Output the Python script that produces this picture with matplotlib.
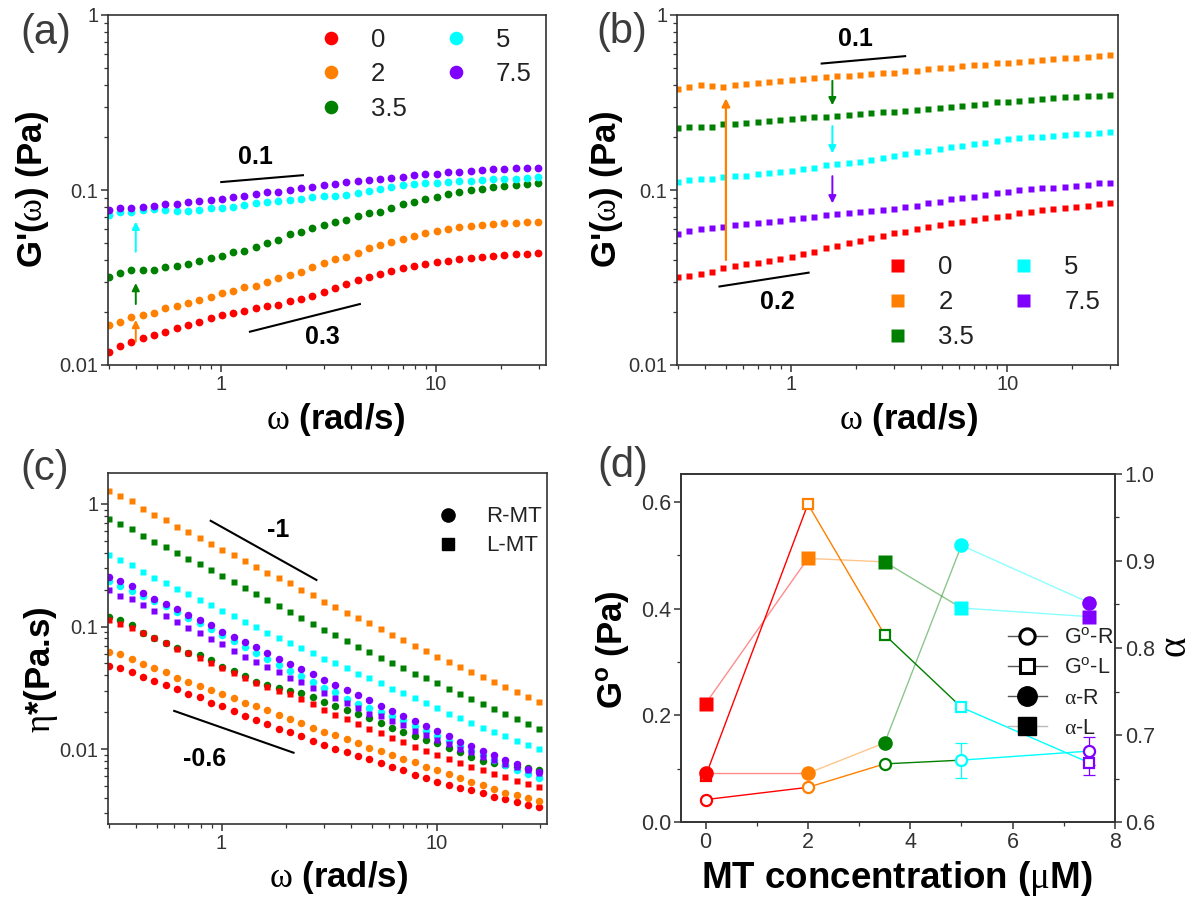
import numpy as np
import matplotlib
matplotlib.use('Agg')
import matplotlib.pyplot as plt
from matplotlib.lines import Line2D
from matplotlib.ticker import LogLocator, NullFormatter, MultipleLocator, FormatStrFormatter

plt.rcParams['font.family'] = ['Liberation Sans', 'DejaVu Sans']
plt.rcParams['mathtext.fontset'] = 'custom'
plt.rcParams['mathtext.rm'] = 'Liberation Serif'
plt.rcParams['mathtext.sf'] = 'Liberation Sans'
plt.rcParams['mathtext.bf'] = 'Liberation Sans:bold'
plt.rcParams['mathtext.it'] = 'Liberation Sans:italic'
plt.rcParams['axes.linewidth'] = 1.2
plt.rcParams['axes.edgecolor'] = '#333333'
plt.rcParams['xtick.color'] = '#333333'
plt.rcParams['ytick.color'] = '#333333'

# frequency sweep (rad/s), shared by panels a-c
omega = [0.300, 0.339, 0.382, 0.431, 0.487, 0.550, 0.620, 0.700, 0.791, 0.892,
         1.007, 1.137, 1.283, 1.449, 1.635, 1.846, 2.083, 2.352, 2.655, 2.997,
         3.383, 3.819, 4.311, 4.866, 5.493, 6.200, 6.999, 7.900, 8.918, 10.07,
         11.36, 12.83, 14.48, 16.34, 18.45, 20.82, 23.51, 26.53, 29.95]

conc_labels = ['0', '2', '3.5', '5', '7.5']
colors = ['#ff0000', '#ff8000', '#008000', '#00ffff', '#8000ff']

# (a) G' for R-MT
gR_0 = [0.0119, 0.0128, 0.0136, 0.0142, 0.0149, 0.0155, 0.0162, 0.0169, 0.0177, 0.0185,
        0.0193, 0.0198, 0.0203, 0.0211, 0.0216, 0.0221, 0.0231, 0.0239, 0.0249, 0.0263,
        0.0274, 0.0289, 0.0305, 0.0318, 0.0331, 0.0345, 0.0356, 0.0368, 0.0379, 0.0386,
        0.0395, 0.0402, 0.0410, 0.0415, 0.0421, 0.0425, 0.0430, 0.0432, 0.0434]
gR_2 = [0.0169, 0.0177, 0.0189, 0.0193, 0.0199, 0.0211, 0.0216, 0.0225, 0.0235, 0.0246,
        0.0257, 0.0265, 0.0278, 0.0284, 0.0300, 0.0313, 0.0327, 0.0342, 0.0365, 0.0381,
        0.0402, 0.0416, 0.0435, 0.0464, 0.0485, 0.0507, 0.0527, 0.0546, 0.0566, 0.0586,
        0.0600, 0.0612, 0.0622, 0.0631, 0.0639, 0.0646, 0.0652, 0.0657, 0.0660]
gR_35 = [0.0320, 0.0335, 0.0347, 0.0347, 0.0347, 0.0365, 0.0369, 0.0376, 0.0393, 0.0407,
         0.0422, 0.0440, 0.0450, 0.0470, 0.0496, 0.0518, 0.0558, 0.0578, 0.0604, 0.0631,
         0.0654, 0.0674, 0.0711, 0.0736, 0.0752, 0.0789, 0.0832, 0.0858, 0.0892, 0.0916,
         0.0945, 0.0970, 0.0995, 0.1015, 0.1035, 0.1050, 0.1065, 0.1080, 0.1100]
gR_5 = [0.0720, 0.0752, 0.0752, 0.0770, 0.0775, 0.0770, 0.0762, 0.0755, 0.0770, 0.0786,
        0.0786, 0.0803, 0.0820, 0.0839, 0.0855, 0.0870, 0.0880, 0.0890, 0.0910, 0.0920,
        0.0930, 0.0940, 0.0957, 0.0990, 0.1010, 0.1040, 0.1070, 0.1080, 0.1090, 0.1100,
        0.1110, 0.1125, 0.1130, 0.1140, 0.1150, 0.1160, 0.1163, 0.1165, 0.1180]
gR_75 = [0.0769, 0.0786, 0.0786, 0.0796, 0.0814, 0.0830, 0.0830, 0.0850, 0.0870, 0.0877,
         0.0889, 0.0908, 0.0928, 0.0945, 0.0970, 0.0980, 0.1000, 0.1020, 0.1040, 0.1070,
         0.1080, 0.1110, 0.1120, 0.1140, 0.1160, 0.1170, 0.1190, 0.1220, 0.1230, 0.1240,
         0.1260, 0.1270, 0.1290, 0.1300, 0.1310, 0.1320, 0.1330, 0.1330, 0.1340]

# (b) G' for L-MT
gL_0 = [0.0317, 0.0323, 0.0331, 0.0342, 0.0357, 0.0368, 0.0376, 0.0385, 0.0393, 0.0404,
        0.0416, 0.0429, 0.0444, 0.0464, 0.0480, 0.0496, 0.0513, 0.0530, 0.0546, 0.0566,
        0.0578, 0.0599, 0.0618, 0.0630, 0.0645, 0.0659, 0.0674, 0.0689, 0.0705, 0.0714,
        0.0736, 0.0752, 0.0769, 0.0779, 0.0792, 0.0803, 0.0814, 0.0832, 0.0847]
gL_2 = [0.380, 0.390, 0.398, 0.392, 0.388, 0.398, 0.403, 0.410, 0.414, 0.418,
        0.424, 0.429, 0.434, 0.440, 0.447, 0.449, 0.455, 0.460, 0.465, 0.469,
        0.476, 0.481, 0.489, 0.496, 0.501, 0.510, 0.516, 0.520, 0.529, 0.533,
        0.540, 0.547, 0.551, 0.560, 0.566, 0.571, 0.576, 0.583, 0.590]
gL_35 = [0.225, 0.228, 0.230, 0.230, 0.237, 0.239, 0.242, 0.245, 0.248, 0.251,
         0.255, 0.257, 0.262, 0.262, 0.266, 0.269, 0.272, 0.275, 0.278, 0.280,
         0.283, 0.286, 0.290, 0.294, 0.299, 0.302, 0.306, 0.310, 0.317, 0.320,
         0.324, 0.327, 0.330, 0.334, 0.338, 0.341, 0.344, 0.346, 0.349]
gL_5 = [0.1116, 0.1140, 0.1150, 0.1160, 0.1180, 0.1200, 0.1210, 0.1230, 0.1245, 0.1270,
        0.1290, 0.1310, 0.1340, 0.1390, 0.1400, 0.1430, 0.1450, 0.1480, 0.1520, 0.1560,
        0.1600, 0.1640, 0.1670, 0.1710, 0.1750, 0.1780, 0.1820, 0.1860, 0.1910, 0.1950,
        0.1970, 0.2000, 0.2020, 0.2030, 0.2060, 0.2080, 0.2100, 0.2130, 0.2140]
gL_75 = [0.0558, 0.0580, 0.0596, 0.0604, 0.0618, 0.0630, 0.0640, 0.0650, 0.0659, 0.0668,
         0.0680, 0.0692, 0.0705, 0.0716, 0.0727, 0.0738, 0.0747, 0.0756, 0.0768, 0.0779,
         0.0803, 0.0815, 0.0839, 0.0858, 0.0885, 0.0904, 0.0916, 0.0936, 0.0957, 0.0980,
         0.1000, 0.1010, 0.1020, 0.1030, 0.1040, 0.1050, 0.1070, 0.1090, 0.1100]

# (c) complex viscosity, R-MT (circles)
etaR_0 = [0.0478, 0.0455, 0.0427, 0.0391, 0.0361, 0.0333, 0.0308, 0.0284, 0.0264, 0.0240,
          0.0223, 0.0205, 0.0187, 0.0173, 0.0160, 0.0147, 0.0137, 0.0127, 0.0117, 0.0109,
          0.0101, 0.0095, 0.0088, 0.0083, 0.0077, 0.0071, 0.0067, 0.0061, 0.0058, 0.0054,
          0.0051, 0.0048, 0.0046, 0.0044, 0.0041, 0.0039, 0.0037, 0.0035, 0.0034]
etaR_2 = [0.0621, 0.0595, 0.0548, 0.0493, 0.0455, 0.0422, 0.0384, 0.0356, 0.0328, 0.0305,
          0.0281, 0.0259, 0.0240, 0.0223, 0.0209, 0.0189, 0.0176, 0.0163, 0.0150, 0.0139,
          0.0130, 0.0121, 0.0112, 0.0103, 0.0096, 0.0089, 0.0083, 0.0078, 0.0072, 0.0067,
          0.00625, 0.00577, 0.00542, 0.0051, 0.0047, 0.0044, 0.0042, 0.0040, 0.0038]
etaR_35 = [0.1206, 0.1126, 0.1031, 0.0894, 0.0814, 0.0732, 0.0666, 0.0614, 0.0584, 0.0535,
           0.0472, 0.0430, 0.0396, 0.0354, 0.0333, 0.0315, 0.0300, 0.0285, 0.0264, 0.0243,
           0.0226, 0.0209, 0.0193, 0.0178, 0.0163, 0.0150, 0.0138, 0.0128, 0.0119, 0.0112,
           0.0103, 0.0095, 0.0087, 0.0080, 0.0077, 0.0074, 0.0072, 0.0070, 0.0068]
etaR_5 = [0.235, 0.215, 0.195, 0.178, 0.162, 0.147, 0.132, 0.118, 0.106, 0.095,
          0.0850, 0.0765, 0.0685, 0.0610, 0.0548, 0.0490, 0.0435, 0.0396, 0.0354, 0.0318,
          0.0290, 0.0256, 0.0233, 0.0215, 0.0202, 0.0187, 0.0173, 0.0155, 0.0141, 0.0128,
          0.0117, 0.0106, 0.0097, 0.0090, 0.0081, 0.0074, 0.0068, 0.0063, 0.0058]
etaR_75 = [0.256, 0.236, 0.215, 0.187, 0.169, 0.154, 0.138, 0.124, 0.113, 0.1025,
           0.091, 0.0829, 0.0750, 0.0675, 0.0614, 0.0548, 0.0493, 0.0449, 0.0409, 0.0367,
           0.0333, 0.0303, 0.0275, 0.0251, 0.0226, 0.0205, 0.0187, 0.0170, 0.0153, 0.0141,
           0.0127, 0.0115, 0.0106, 0.0097, 0.0089, 0.0081, 0.0075, 0.0069, 0.0065]

# (c) complex viscosity, L-MT (squares)
etaL_0 = [0.113, 0.1045, 0.0969, 0.0883, 0.0814, 0.0732, 0.0662, 0.0606, 0.0559, 0.0502,
          0.0455, 0.0417, 0.0384, 0.0345, 0.0324, 0.0299, 0.0281, 0.0256, 0.0233, 0.0209,
          0.0189, 0.0176, 0.0160, 0.0147, 0.0135, 0.0124, 0.0115, 0.0105, 0.0097, 0.0089,
          0.0083, 0.0077, 0.0072, 0.0067, 0.0063, 0.0059, 0.0055, 0.0052, 0.0049]
etaL_2 = [1.276, 1.160, 1.058, 0.916, 0.813, 0.741, 0.653, 0.591, 0.532, 0.469,
          0.422, 0.382, 0.343, 0.308, 0.276, 0.251, 0.226, 0.199, 0.180, 0.160,
          0.145, 0.130, 0.117, 0.106, 0.0951, 0.0855, 0.0774, 0.0696, 0.0633, 0.0569,
          0.0515, 0.0472, 0.0427, 0.0391, 0.0355, 0.0322, 0.0292, 0.0265, 0.0241]
etaL_35 = [0.758, 0.692, 0.629, 0.548, 0.493, 0.449, 0.401, 0.358, 0.322, 0.290,
           0.259, 0.231, 0.208, 0.186, 0.165, 0.147, 0.132, 0.117, 0.1044, 0.0939,
           0.0850, 0.0764, 0.0687, 0.0621, 0.0559, 0.0509, 0.0457, 0.0414, 0.0377, 0.0345,
           0.0308, 0.0281, 0.0256, 0.0233, 0.0212, 0.0193, 0.0175, 0.0160, 0.0145]
etaL_5 = [0.382, 0.349, 0.316, 0.279, 0.249, 0.226, 0.204, 0.184, 0.165, 0.149,
          0.134, 0.122, 0.109, 0.100, 0.0894, 0.0813, 0.0741, 0.0666, 0.0606, 0.0548,
          0.0502, 0.0455, 0.0414, 0.0377, 0.0345, 0.0312, 0.0286, 0.0259, 0.0237, 0.0215,
          0.0195, 0.0178, 0.0163, 0.0150, 0.0138, 0.0127, 0.0117, 0.0108, 0.0100]
etaL_75 = [0.199, 0.178, 0.167, 0.149, 0.134, 0.122, 0.109, 0.098, 0.0894, 0.0798,
           0.0718, 0.0633, 0.0569, 0.0515, 0.0472, 0.0422, 0.0384, 0.0350, 0.0318, 0.0286,
           0.0259, 0.0236, 0.0215, 0.0195, 0.0185, 0.0170, 0.0157, 0.0141, 0.0130, 0.0119,
           0.0110, 0.0101, 0.0094, 0.0087, 0.0081, 0.0075, 0.0071, 0.0067, 0.0064]

# (d) fit parameters vs MT concentration
conc = [0, 2, 3.5, 5, 7.5]
G0_R = [0.042, 0.065, 0.109, 0.116, 0.133]
G0_R_err = [0, 0, 0, 0.033, 0.026]
G0_L = [0.086, 0.596, 0.351, 0.215, 0.111]
G0_L_err = [0, 0, 0, 0, 0.022]
alpha_R = [0.656, 0.656, 0.691, 0.918, 0.852]
alpha_L = [0.736, 0.903, 0.899, 0.846, 0.836]

W, H = 1192, 899
fig = plt.figure(figsize=(W / 100, H / 100), dpi=100)


def px_axes(l, t, r, b):
    return fig.add_axes([l / W, 1 - b / H, (r - l) / W, (b - t) / H])


ax_a = px_axes(108, 15, 546, 365)
ax_b = px_axes(677, 15, 1118, 365)
ax_c = px_axes(108, 473, 547, 824)
ax_d = px_axes(681, 474, 1115, 822)


def style_log(ax, ylim):
    ax.set_xscale('log')
    ax.set_yscale('log')
    ax.set_xlim(0.297, 32.5)
    ax.set_ylim(*ylim)
    ax.set_xticks([1, 10])
    ax.set_xticklabels(['1', '10'])
    ax.set_yticks([0.01, 0.1, 1])
    ax.set_yticklabels(['0.01', '0.1', '1'])
    ax.xaxis.set_minor_locator(LogLocator(base=10, subs=np.arange(2, 10), numticks=20))
    ax.yaxis.set_minor_locator(LogLocator(base=10, subs=np.arange(2, 10), numticks=20))
    ax.xaxis.set_minor_formatter(NullFormatter())
    ax.yaxis.set_minor_formatter(NullFormatter())
    ax.tick_params(which='major', direction='out', length=5, width=1.1, labelsize=14.5, pad=2)
    ax.tick_params(which='minor', direction='out', length=2.8, width=0.9)
    ax.tick_params(which='both', top=False, right=False)


lab_kw = dict(fontsize=25, fontweight='bold')
omega_label = r'$\mathrm{\omega}$ (rad/s)'

# ---- (a) ----
style_log(ax_a, (0.01, 1))
for vals, c, lab in zip([gR_0, gR_2, gR_35, gR_5, gR_75], colors, conc_labels):
    ax_a.plot(omega, vals, 'o', color=c, ms=5.6, mec='none', label=lab)
ax_a.set_xlim(0.297, 32.5)
ax_a.set_xlabel(omega_label, va='center', **lab_kw)
ax_a.xaxis.set_label_coords(0.52, -0.157)
ax_a.set_ylabel(r"G'($\mathrm{\omega}$) (Pa)", va='center', **lab_kw)
ax_a.yaxis.set_label_coords(-0.172, 0.5)
ax_a.legend(loc='upper left', bbox_to_anchor=(0.48, 0.963), ncol=2, frameon=False,
            fontsize=18.5, handlelength=1.0, handletextpad=1.06, columnspacing=1.4,
            labelspacing=0.4, borderpad=0, borderaxespad=0, markerscale=1.75,
            labelcolor='#222222')
ax_a.plot([1.0, 2.4], [0.111, 0.1215], color='black', lw=1.5)
ax_a.text(1.45, 0.154, '0.1', fontsize=18, fontweight='bold', ha='center', va='center')
ax_a.plot([1.36, 4.42], [0.0155, 0.0223], color='black', lw=1.5)
ax_a.text(2.96, 0.0145, '0.3', fontsize=18, fontweight='bold', ha='center', va='center')
for (y0, y1), c in zip([(0.0136, 0.0181), (0.0223, 0.0294), (0.0444, 0.0659)],
                       [colors[1], colors[2], colors[3]]):
    ax_a.annotate('', xy=(0.40, y1), xytext=(0.40, y0),
                  arrowprops=dict(arrowstyle='-|>', color=c, lw=1.4,
                                  mutation_scale=11, shrinkA=0, shrinkB=0))

# ---- (b) ----
style_log(ax_b, (0.01, 1))
for vals, c, lab in zip([gL_0, gL_2, gL_35, gL_5, gL_75], colors, conc_labels):
    ax_b.plot(omega, vals, 's', color=c, ms=4.8, mec='none', label=lab)
ax_b.set_xlim(0.297, 32.5)
ax_b.set_xlabel(omega_label, va='center', **lab_kw)
ax_b.xaxis.set_label_coords(0.526, -0.157)
ax_b.set_ylabel(r"G'($\mathrm{\omega}$) (Pa)", va='center', **lab_kw)
ax_b.yaxis.set_label_coords(-0.159, 0.5)
ax_b.legend(loc='upper left', bbox_to_anchor=(0.4705, 0.313), ncol=2, frameon=False,
            fontsize=18.5, handlelength=1.0, handletextpad=1.1, columnspacing=1.4,
            labelspacing=0.42, borderpad=0, borderaxespad=0, markerscale=1.95,
            labelcolor='#222222')
ax_b.plot([1.386, 3.37], [0.528, 0.582], color='black', lw=1.5)
ax_b.text(1.98, 0.734, '0.1', fontsize=18, fontweight='bold', ha='center', va='center')
ax_b.plot([0.467, 1.206], [0.0281, 0.0337], color='black', lw=1.5)
ax_b.text(0.864, 0.023, '0.2', fontsize=18, fontweight='bold', ha='center', va='center')
ax_b.annotate('', xy=(0.50, 0.334), xytext=(0.50, 0.0398),
              arrowprops=dict(arrowstyle='-|>', color=colors[1], lw=1.6,
                              mutation_scale=12, shrinkA=0, shrinkB=0))
for (y0, y1), c in zip([(0.421, 0.305), (0.232, 0.162), (0.120, 0.0839)],
                       [colors[2], colors[3], colors[4]]):
    ax_b.annotate('', xy=(1.553, y1), xytext=(1.553, y0),
                  arrowprops=dict(arrowstyle='-|>', color=c, lw=1.4,
                                  mutation_scale=11, shrinkA=0, shrinkB=0))

# ---- (c) ----
style_log(ax_c, (0.00245, 1.79))
for vals, c in zip([etaR_0, etaR_2, etaR_35, etaR_5, etaR_75], colors):
    ax_c.plot(omega, vals, 'o', color=c, ms=5.4, mec='none')
for vals, c in zip([etaL_0, etaL_2, etaL_35, etaL_5, etaL_75], colors):
    ax_c.plot(omega, vals, 's', color=c, ms=4.8, mec='none')
ax_c.set_xlim(0.297, 32.5)
ax_c.set_xlabel(omega_label, va='center', **lab_kw)
ax_c.xaxis.set_label_coords(0.526, -0.151)
ax_c.set_ylabel(r'$\mathrm{\eta}$*(Pa.s)', va='center', **lab_kw)
ax_c.yaxis.set_label_coords(-0.153, 0.44)
ax_c.plot([0.891, 2.76], [0.729, 0.240], color='black', lw=1.5)
ax_c.text(1.83, 0.608, '-1', fontsize=18, fontweight='bold', ha='center', va='center')
ax_c.plot([0.603, 2.16], [0.0205, 0.00935], color='black', lw=1.5)
ax_c.text(0.838, 0.00826, '-0.6', fontsize=18, fontweight='bold', ha='center', va='center')
c_handles = [Line2D([], [], ls='none', marker='o', color='black', ms=9.5),
             Line2D([], [], ls='none', marker='s', color='black', ms=9)]
ax_c.legend(c_handles, ['R-MT', 'L-MT'], loc='upper left', bbox_to_anchor=(0.749, 0.905),
            frameon=False, fontsize=16, handlelength=1.0, handletextpad=1.2,
            labelspacing=0.36, borderpad=0, borderaxespad=0, labelcolor='#222222')

# ---- (d) ----
ax_d2 = ax_d.twinx()
ax_d.set_xlim(-0.48, 8)
ax_d.set_ylim(0, 0.6525)
ax_d2.set_ylim(0.6, 1.0)
n = len(conc)
for i in range(n - 1):
    ax_d.plot(conc[i:i + 2], G0_R[i:i + 2], color=colors[i], lw=1.0, zorder=2)
    ax_d.plot(conc[i:i + 2], G0_L[i:i + 2], color=colors[i], lw=1.0, zorder=2)
    ax_d2.plot(conc[i:i + 2], alpha_R[i:i + 2], color=colors[i], lw=1.0, alpha=0.45, zorder=2)
    ax_d2.plot(conc[i:i + 2], alpha_L[i:i + 2], color=colors[i], lw=1.0, alpha=0.45, zorder=2)
for i in range(n):
    if G0_R_err[i] > 0:
        ax_d.errorbar(conc[i], G0_R[i], yerr=G0_R_err[i], color=colors[i], lw=0.9,
                      capsize=4, capthick=0.9, zorder=3)
    if G0_L_err[i] > 0:
        ax_d.errorbar(conc[i], G0_L[i], yerr=G0_L_err[i], color=colors[i], lw=0.9,
                      capsize=4, capthick=0.9, zorder=3)
    ax_d.plot(conc[i], G0_L[i], 's', mfc='white', mec=colors[i], mew=1.6, ms=7.5, zorder=4)
    ax_d.plot(conc[i], G0_R[i], 'o', mfc='white', mec=colors[i], mew=1.6, ms=8, zorder=4)
    ax_d2.plot(conc[i], alpha_L[i], 's', color=colors[i], mec='none', ms=9.5, zorder=4)
    ax_d2.plot(conc[i], alpha_R[i], 'o', color=colors[i], mec='none', ms=10.5, zorder=4)

ax_d.set_xticks([0, 2, 4, 6, 8])
ax_d.xaxis.set_minor_locator(MultipleLocator(1))
ax_d.set_yticks([0.0, 0.2, 0.4, 0.6])
ax_d.yaxis.set_minor_locator(MultipleLocator(0.1))
ax_d.yaxis.set_major_formatter(FormatStrFormatter('%.1f'))
ax_d2.set_yticks([0.6, 0.7, 0.8, 0.9, 1.0])
ax_d2.yaxis.set_minor_locator(MultipleLocator(0.05))
ax_d2.yaxis.set_major_formatter(FormatStrFormatter('%.1f'))
for a in (ax_d, ax_d2):
    a.tick_params(which='major', direction='out', length=5, width=1.1, labelsize=15.5, pad=2)
    a.tick_params(which='minor', direction='out', length=2.8, width=0.9)
ax_d.tick_params(which='both', top=False, right=False)
ax_d2.tick_params(which='both', top=False, left=False)

ax_d.set_xlabel(r'MT concentration ($\mathrm{\mu}$M)', va='center', fontsize=26.5, fontweight='bold')
ax_d.xaxis.set_label_coords(0.498, -0.161)
ax_d.set_ylabel(r'G$^{\mathbf{o}}$ (Pa)', va='center', **lab_kw)
ax_d.yaxis.set_label_coords(-0.157, 0.494)
ax_d2.set_ylabel(r'$\mathrm{\alpha}$', fontsize=28, va='center', rotation=90)
ax_d2.yaxis.set_label_coords(1.14, 0.503)

d_handles = [Line2D([], [], color='#555555', lw=1, marker='o', mfc='white', mec='black', mew=2.2, ms=11),
             Line2D([], [], color='#555555', lw=1, marker='s', mfc='white', mec='black', mew=2.2, ms=10),
             Line2D([], [], color='#555555', lw=1, marker='o', mfc='black', mec='black', ms=14),
             Line2D([], [], color='#bbbbbb', lw=1, marker='s', mfc='black', mec='black', ms=13)]
ax_d2.legend(d_handles, [r'G$^{\mathsf{o}}$-R', r'G$^{\mathsf{o}}$-L',
                         r'$\mathrm{\alpha}$-R', r'$\mathrm{\alpha}$-L'],
             loc='upper left', bbox_to_anchor=(0.753, 0.558), frameon=False, fontsize=15.5,
             handlelength=1.8, handletextpad=0.8, labelspacing=0.42, borderpad=0,
             borderaxespad=0, labelcolor='#222222')

# panel letters
for s, x, y in [('(a)', 46, 33), ('(b)', 622, 32), ('(c)', 45, 469), ('(d)', 623, 466)]:
    fig.text(x / W, 1 - y / H, s, fontsize=30, color='#3c3c3c', ha='center', va='center')

fig.savefig('out.png', dpi=100)
